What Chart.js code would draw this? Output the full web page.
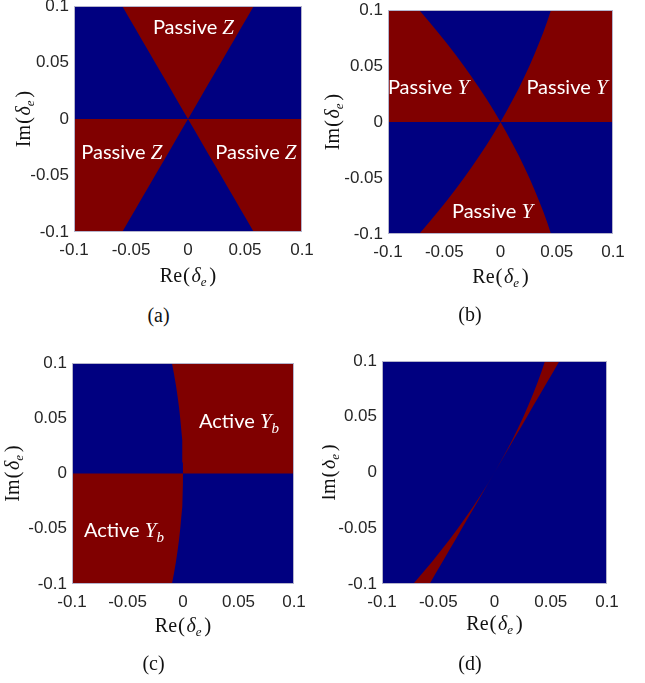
<!DOCTYPE html>
<html>
<head>
<meta charset="utf-8">
<script src="https://cdn.jsdelivr.net/npm/chart.js@4.4.0/dist/chart.umd.min.js"></script>
<style>
  body { margin: 0; background: #fff; width: 645px; height: 683px; overflow: hidden; position: relative; }
  .panel { position: absolute; }
  .cap { position: absolute; font: 20px "Liberation Serif", "Times New Roman", serif; line-height: 20px;
         color: #111; transform: translateX(-50%); white-space: nowrap; }
</style>
</head>
<body>
<script>
const imLevels = [0, 0.01, 0.02, 0.03, 0.04, 0.05, 0.06, 0.07, 0.08, 0.09, 0.1];
// (a) passive Z edge: |Re| of the 60 degree lines
const zEdge = [0, 0.0058, 0.0115, 0.0173, 0.0231, 0.0289, 0.0346, 0.0404, 0.0462, 0.0520, 0.0577];
// (b) passive Y edges (same for +Im and -Im)
const yEdgeLeft = [0, -0.0059, -0.0121, -0.0186, -0.0254, -0.0325, -0.0399, -0.0476, -0.0555, -0.0638, -0.0723];
const yEdgeRight = [0, 0.0056, 0.0110, 0.0162, 0.0210, 0.0257, 0.0300, 0.0341, 0.0380, 0.0416, 0.0449];
// (c) active Yb edge
const ybEdge = [0, -0.0001, -0.0004, -0.0009, -0.0016, -0.0025, -0.0036, -0.0049, -0.0064, -0.0081, -0.0100];

const tickValues = [-0.1, -0.05, 0, 0.05, 0.1];
const tickLabels = ['-0.1', '-0.05', '0', '0.05', '0.1'];
const lim = 0.1;

const BLUE = '#000080', RED = '#800000', INK = '#262626';
const SERIF = '"Liberation Serif", "Times New Roman", serif';
const SANS = 'Lato, "Open Sans", sans-serif';

// helpers to turn the edge lists into closed shapes
const edge = (xs, s) => xs.map((v, i) => ({x: v, y: s * imLevels[i]}));
const rev = a => a.slice().reverse();
const negate = xs => xs.map(v => -v);

const regionsA = [
  [...rev(edge(negate(zEdge), 1)), ...edge(zEdge, 1)],
  [{x: -lim, y: 0}, ...edge(negate(zEdge), -1), {x: -lim, y: -lim}],
  [{x: lim, y: 0}, ...edge(zEdge, -1), {x: lim, y: -lim}]
];
const regionsB = [
  [{x: -lim, y: 0}, ...edge(yEdgeLeft, 1), {x: -lim, y: lim}],
  [{x: lim, y: 0}, ...edge(yEdgeRight, 1), {x: lim, y: lim}],
  [...rev(edge(yEdgeLeft, -1)), ...edge(yEdgeRight, -1)]
];
const regionsC = [
  [{x: lim, y: 0}, ...edge(ybEdge, 1), {x: lim, y: lim}],
  [{x: -lim, y: 0}, ...edge(ybEdge, -1), {x: -lim, y: -lim}]
];
// (d) = passive Z and passive Y at the same time
const regionsD = [
  [...edge(yEdgeRight, 1), ...rev(edge(zEdge, 1))],
  [...edge(yEdgeLeft, -1), ...rev(edge(negate(zEdge), -1))]
];

function drawRich(ctx, parts, x, y, color) {
  ctx.save();
  ctx.fillStyle = color;
  ctx.textBaseline = 'alphabetic';
  ctx.textAlign = 'left';
  let w = 0;
  parts.forEach(p => { ctx.font = p.f; w += ctx.measureText(p.t).width + (p.gap || 0); });
  let cx = x - w / 2;
  parts.forEach(p => {
    ctx.font = p.f;
    ctx.fillText(p.t, cx, y + (p.dy || 0));
    cx += ctx.measureText(p.t).width + (p.gap || 0);
  });
  ctx.restore();
}

const axisText = lead => [
  {t: lead, f: '20px ' + SERIF, gap: 1},
  {t: '(', f: '21px ' + SERIF, gap: 1.5},
  {t: 'δ', f: 'italic 20px ' + SERIF},
  {t: 'e', f: 'italic 13px ' + SERIF, dy: 4, gap: 2.5},
  {t: ')', f: '21px ' + SERIF}
];
const passive = s => [{t: 'Passive ', f: '20px ' + SANS}, {t: s, f: 'italic 21px ' + SERIF}];
const activeYb = [
  {t: 'Active ', f: '20px ' + SANS},
  {t: 'Y', f: 'italic 21px ' + SERIF},
  {t: 'b', f: 'italic 15px ' + SERIF, dy: 5}
];

const panels = [
  {id: 'a', left: 0, width: 322, plot: [74, 6, 302, 232], yGap: 48.5, xGap: 49.5,
   cap: [158.5, 316.5], regions: regionsA,
   notes: [{x: 0.0048, y: 0.075, p: passive('Z')}, {x: -0.058, y: -0.035, p: passive('Z')},
           {x: 0.0596, y: -0.035, p: passive('Z')}]},
  {id: 'b', left: 322, width: 323, plot: [388, 10, 613, 234], yGap: 53, xGap: 49,
   cap: [470, 316], regions: regionsB,
   notes: [{x: -0.0640, y: 0.025, p: passive('Y')}, {x: 0.0591, y: 0.025, p: passive('Y')},
           {x: -0.0071, y: -0.0857, p: passive('Y')}]},
  {id: 'c', left: 0, width: 322, plot: [72, 363, 294, 584], yGap: 57.5, xGap: 47.5,
   cap: [153.5, 665], regions: regionsC,
   notes: [{x: 0.0505, y: 0.0412, p: activeYb}, {x: -0.0532, y: -0.0575, p: activeYb}]},
  {id: 'd', left: 322, width: 323, plot: [382, 361, 607, 584], yGap: 51.5, xGap: 46,
   cap: [470, 665], regions: regionsD, notes: []}
];

const TOP_PAD = 20, X_AXIS_H = 70;

function decor(cfg) {
  return {
    id: 'decor' + cfg.id,
    beforeDraw(chart) {
      const {ctx, chartArea: a} = chart;
      ctx.save();
      ctx.fillStyle = BLUE;
      ctx.fillRect(a.left, a.top, a.width, a.height);
      ctx.restore();
    },
    afterDraw(chart) {
      const {ctx, chartArea: a, scales} = chart;
      ctx.save();
      ctx.strokeStyle = '#b4b4cc';
      ctx.lineWidth = 1;
      ctx.strokeRect(a.left + 0.5, a.top + 0.5, a.width - 1, a.height - 1);
      ctx.restore();
      cfg.notes.forEach(n => drawRich(ctx, n.p, scales.x.getPixelForValue(n.x), scales.y.getPixelForValue(n.y), '#fff'));
      drawRich(ctx, axisText('Re'), (a.left + a.right) / 2, a.bottom + cfg.xGap, '#111');
      ctx.save();
      ctx.translate(a.left - cfg.yGap + 4, (a.top + a.bottom) / 2);
      ctx.rotate(-Math.PI / 2);
      drawRich(ctx, axisText('Im'), 0, 0, '#111');
      ctx.restore();
    }
  };
}

function axis(fitSize, isX) {
  return {
    type: 'linear', min: -lim, max: lim,
    grid: {display: false, drawTicks: false},
    border: {display: false},
    afterBuildTicks: s => { s.ticks = tickValues.map(v => ({value: v})); },
    afterFit: s => { if (isX) s.height = fitSize; else s.width = fitSize; },
    ticks: {
      autoSkip: false, maxRotation: 0, color: INK, padding: isX ? 8 : 5,
      font: {family: '"Liberation Sans", Arial, sans-serif', size: 17},
      callback: (v, i) => tickLabels[i]
    }
  };
}

panels.forEach(p => {
  const [pl, pt, pr, pb] = p.plot;
  const div = document.createElement('div');
  div.className = 'panel';
  const h = (pb - pt) + TOP_PAD + X_AXIS_H;
  div.style.left = p.left + 'px';
  div.style.top = (pt - TOP_PAD) + 'px';
  const canvas = document.createElement('canvas');
  canvas.width = p.width;
  canvas.height = h;
  canvas.style.width = p.width + 'px';
  canvas.style.height = h + 'px';
  div.appendChild(canvas);
  document.body.appendChild(div);

  const cap = document.createElement('div');
  cap.className = 'cap';
  cap.textContent = '(' + p.id + ')';
  cap.style.left = p.cap[0] + 'px';
  cap.style.top = (p.cap[1] - 11.8) + 'px';
  document.body.appendChild(cap);

  new Chart(canvas, {
    type: 'scatter',
    data: {
      datasets: p.regions.map(r => ({
        data: r, showLine: true, fill: 'shape', tension: 0,
        backgroundColor: RED, borderColor: 'rgba(0,0,0,0)', borderWidth: 0, pointRadius: 0
      }))
    },
    options: {
      responsive: false, devicePixelRatio: 1, animation: false,
      layout: {padding: {left: 0, top: TOP_PAD, right: p.left + p.width - pr, bottom: 0}},
      plugins: {legend: {display: false}, tooltip: {enabled: false}},
      scales: {x: axis(X_AXIS_H, true), y: axis(pl - p.left, false)}
    },
    plugins: [decor(p)]
  });
});
</script>
</body>
</html>
